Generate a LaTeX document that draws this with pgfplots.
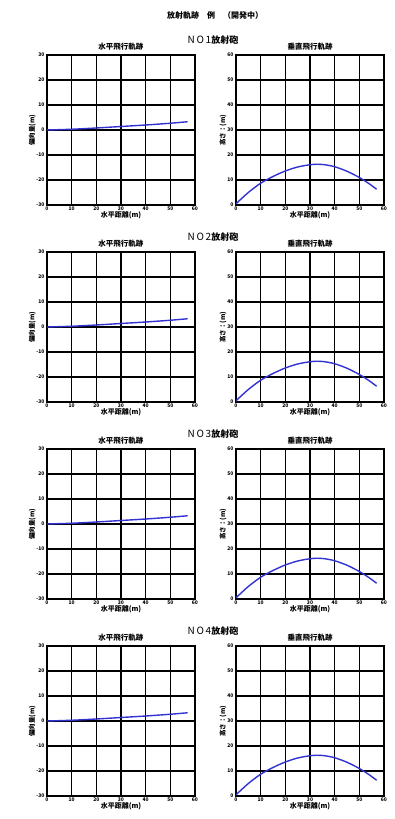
\documentclass[border=0pt]{standalone}
\usepackage{pgfplots}
\pgfplotsset{compat=1.18}
\usepackage{fontspec}
\setmainfont{Noto Sans CJK JP}
\begin{document}
\begin{tikzpicture}
\path (0pt,0pt) rectangle (394pt,819pt);
\pgfplotsset{
  base/.style={
    scale only axis, width=148pt, height=150pt,
    anchor=south west,
    xmin=0, xmax=60, xtick={0,10,...,60},
    grid=major, major grid style={black, line width=1.5pt},
    axis line style={black, line width=1.5pt},
    tick style={draw=none},
    ticklabel style={font=\fontsize{5}{5.5}\selectfont\bfseries},
    /pgf/number format/assume math mode=true,
    xticklabel style={yshift=1.5pt},
    yticklabel style={xshift=1pt},
    title style={font=\fontsize{7.5}{8}\selectfont\bfseries, yshift=-4.5pt},
    xlabel style={font=\fontsize{7}{7.5}\selectfont\bfseries, yshift=6pt},
    ylabel style={font=\fontsize{6.5}{7}\selectfont\bfseries, yshift=-6pt},
    xlabel={水平距離(m)},
  },
  hor/.style={base, ymin=-30, ymax=30, ytick={-30,-20,...,30}, title={水平飛行軌跡}, ylabel={偏向量(m)}},
  ver/.style={base, ymin=0, ymax=60, ytick={0,10,...,60}, title={垂直飛行軌跡}, ylabel={高さ：(m)}},
  traj/.style={color={rgb,255:red,50;green,50;blue,210}, line width=1.4pt, smooth},
}
\pgfplotstableread{
x y
0 0
10 0.3
20 0.8
30 1.4
40 2.0
50 2.7
57 3.3
}\hordata
\pgfplotstableread{
x y
0 0.5
5 5
10 8.7
15 11.4
20 13.6
25 15.2
30 16.1
33 16.3
36 16.1
40 15.3
45 13.5
50 11
54 8.5
57 6.3
}\verdata
\node[font=\fontsize{8}{9}\selectfont\bfseries] at (215pt,804pt) {放射軌跡　例　（開発中）};
% row 1
\node[font=\fontsize{9}{10}\selectfont\bfseries] at (213pt,779pt) {{\fontsize{10}{11}\selectfont\mdseries N\,O\,1}放射砲};
\begin{axis}[hor, at={(47pt,614pt)}]
\addplot[traj] table {\hordata};
\end{axis}
\begin{axis}[ver, at={(236pt,614pt)}]
\addplot[traj] table {\verdata};
\end{axis}
% row 2
\node[font=\fontsize{9}{10}\selectfont\bfseries] at (213pt,582pt) {{\fontsize{10}{11}\selectfont\mdseries N\,O\,2}放射砲};
\begin{axis}[hor, at={(47pt,417pt)}]
\addplot[traj] table {\hordata};
\end{axis}
\begin{axis}[ver, at={(236pt,417pt)}]
\addplot[traj] table {\verdata};
\end{axis}
% row 3
\node[font=\fontsize{9}{10}\selectfont\bfseries] at (213pt,385pt) {{\fontsize{10}{11}\selectfont\mdseries N\,O\,3}放射砲};
\begin{axis}[hor, at={(47pt,220pt)}]
\addplot[traj] table {\hordata};
\end{axis}
\begin{axis}[ver, at={(236pt,220pt)}]
\addplot[traj] table {\verdata};
\end{axis}
% row 4
\node[font=\fontsize{9}{10}\selectfont\bfseries] at (213pt,188pt) {{\fontsize{10}{11}\selectfont\mdseries N\,O\,4}放射砲};
\begin{axis}[hor, at={(47pt,23pt)}]
\addplot[traj] table {\hordata};
\end{axis}
\begin{axis}[ver, at={(236pt,23pt)}]
\addplot[traj] table {\verdata};
\end{axis}
\end{tikzpicture}
\end{document}
